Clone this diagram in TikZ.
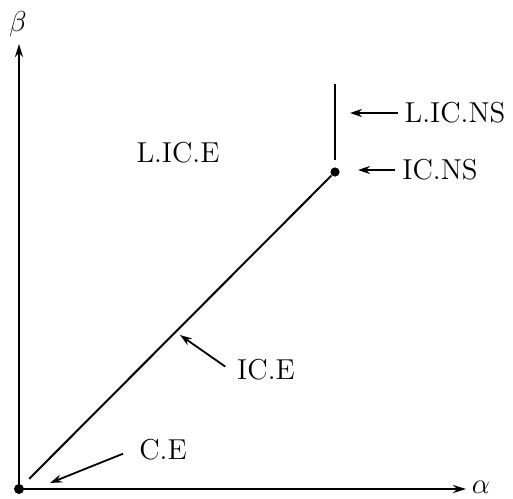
\documentclass[tikz,border=0pt]{standalone}
\usepackage{amsmath}
\usepackage{tikz}
\usetikzlibrary{arrows.meta}

\tikzset{
  dot/.style={circle, fill, inner sep=0pt, minimum size=4.6pt},
  axis/.style={line width=1.1pt, -{Stealth[length=6.5pt,width=4pt]}},
  pointer/.style={line width=0.9pt, -{Stealth[length=6pt,width=4pt]}}
}

\begin{document}
\begin{tikzpicture}[x=0.5pt, y=-0.5pt, font=\Large]
\useasboundingbox (0,0) rectangle (513,498);

% axes
\node[dot, minimum size=5pt](o) at (19,489) {};
\coordinate (xend) at (466,489);
\coordinate (yend) at (19,44);
\draw[axis] (o.center) -- (xend);
\draw[axis] (o.center) -- (yend);
\node[inner sep=1pt](alpha) at (481,487) {$\alpha$};
\node(beta) at (18,24) {$\beta$};

% curves
\node[dot](ns) at (335,172) {};
\coordinate (top) at (335,84);
\draw[line width=1pt, shorten <=4.5pt] (o) -- (ns);
\draw[line width=1pt, shorten <=3.5pt] (ns) -- (top);

% labels
\node(licns) at (455,113) {L.IC.NS};
\node(icns) at (440,170) {IC.NS};
\node(lice) at (178,153) {L.IC.E};
\node(ice) at (266,370) {IC.E};
\node(ce) at (163,450) {C.E};

\coordinate (h1) at (350,113);
\coordinate (h2) at (358,170);
\coordinate (h3) at (180,335);
\coordinate (h4) at (50,483);
\draw[pointer] (licns.west) -- (h1);
\draw[pointer] (icns.west) -- (h2);
\draw[pointer, shorten <=3pt] (ice.west) -- (h3);
\draw[pointer, shorten <=5pt] (ce.west) -- (h4);
\end{tikzpicture}
\end{document}
